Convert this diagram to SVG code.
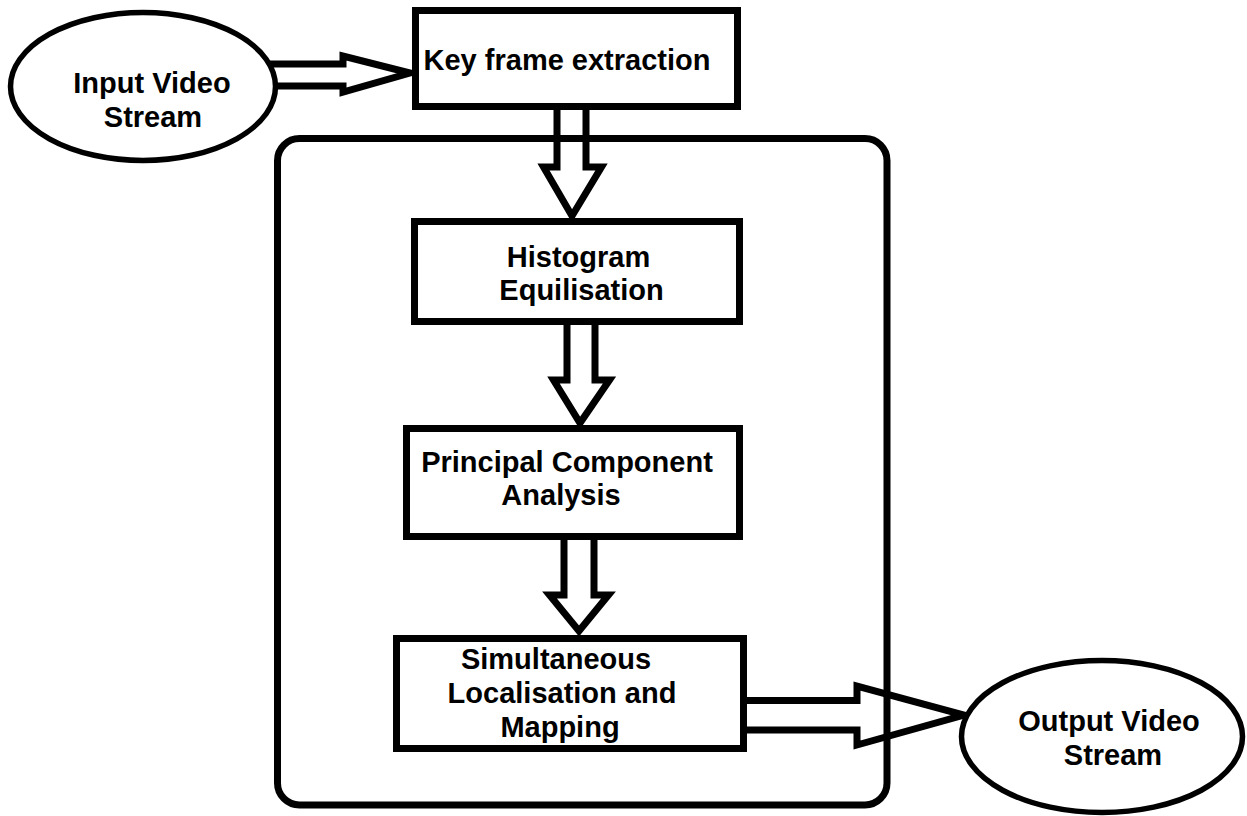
<svg xmlns="http://www.w3.org/2000/svg" width="1247" height="816" viewBox="0 0 1247 816">
<style>
.box{fill:#fff;stroke:#000;stroke-width:7}
.ell{fill:#fff;stroke:#000;stroke-width:5.5}
.cont{fill:none;stroke:#000;stroke-width:7}
.arr{fill:none;stroke:#000;stroke-width:7;stroke-linejoin:miter}
.t{font-family:"Liberation Sans",Arial,sans-serif;font-weight:bold;font-size:29px;fill:#000;text-anchor:middle}
</style>
<rect width="1247" height="816" fill="#fff"/>
<g id="container">
<rect class="cont" x="277.5" y="138.5" width="609.5" height="666.5" rx="22" ry="22"/>
</g>
<g id="connectors">
<polyline class="arr" points="250,64 343,64 343,56 410,73 343,92 343,86 250,86"/>
<polyline class="arr" points="557,106 557,167 543.5,167 572,216 601.5,167 586,167 586,106"/>
<polyline class="arr" points="567,322 567,380 553.5,380 580,423 609.5,380 595,380 595,322"/>
<polyline class="arr" points="564,537 564,595 549.5,595 579,631 608.5,595 594,595 594,537"/>
<polyline class="arr" points="744,700.5 857,700.5 857,686 964,715 857,745 857,730 744,730"/>
</g>
<g id="input">
<ellipse class="ell" cx="143" cy="86.5" rx="132.5" ry="74"/>
<text class="t" x="152" y="93">Input Video</text>
<text class="t" x="153" y="127">Stream</text>
</g>
<g id="keyframe">
<rect class="box" x="415.5" y="10.5" width="322" height="96"/>
<text class="t" x="567" y="70">Key frame extraction</text>
</g>
<g id="histogram">
<rect class="box" x="414.5" y="221.5" width="325" height="100"/>
<text class="t" x="578.5" y="267">Histogram</text>
<text class="t" x="581.5" y="300">Equilisation</text>
</g>
<g id="pca">
<rect class="box" x="406.5" y="428.5" width="333" height="108"/>
<text class="t" x="567" y="472">Principal Component</text>
<text class="t" x="561" y="505">Analysis</text>
</g>
<g id="slam">
<rect class="box" x="396.5" y="638.5" width="347" height="110"/>
<text class="t" x="556" y="669">Simultaneous</text>
<text class="t" x="562" y="703">Localisation and</text>
<text class="t" x="560" y="737">Mapping</text>
</g>
<g id="output">
<ellipse class="ell" cx="1102" cy="736.5" rx="140.5" ry="76"/>
<text class="t" x="1109" y="731">Output Video</text>
<text class="t" x="1113" y="765">Stream</text>
</g>
</svg>
